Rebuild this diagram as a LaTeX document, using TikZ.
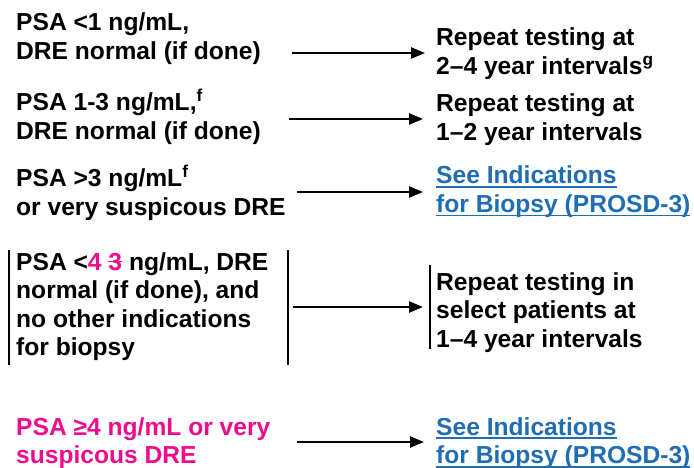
\documentclass[tikz,border=0pt]{standalone}
\usepackage{fontspec}
\setmainfont{Liberation Sans}
\usetikzlibrary{arrows.meta}
\definecolor{pinkc}{HTML}{EC0C8C}
\definecolor{linkc}{HTML}{1F6DB2}
\newsavebox\stkbox
\newcommand\strk[1]{\sbox\stkbox{#1}\rlap{\usebox\stkbox}\rule[0.32em]{\wd\stkbox}{1.6pt}}
\newcommand\lnk[1]{\sbox\stkbox{#1}\rlap{\usebox\stkbox}\rule[-4pt]{\wd\stkbox}{1.6pt}}
\begin{document}
\begin{tikzpicture}[x=1pt,y=-1pt,
  txt/.style={anchor=base west, inner sep=0pt, align=left,
    font=\fontsize{24.6}{28.5}\selectfont\bfseries},
  link/.style={txt, text=linkc},
  arr/.style={line width=2.4pt, -{Triangle[length=14pt,width=11pt]}},
  bar/.style={line width=2.2pt}]
\useasboundingbox (0,0) rectangle (694,468);
% (anchor base = baseline of the last line)
% row 1
\node[txt] (l1) at (16,59.5) {PSA <1 ng/mL,\\DRE normal (if done)};
\node[txt] (r1) at (436,74.5) {Repeat testing at\\2–4 year intervals\textsuperscript{g}};
\coordinate (s1) at (292,53);
\draw[arr, shorten >=11pt] (s1) -- (s1 -| r1.west);
% row 2
\node[txt] (l2) at (16,139.5) {PSA 1-3 ng/mL,\textsuperscript{f}\\DRE normal (if done)};
\node[txt] (r2) at (436,140.5) {Repeat testing at\\1–2 year intervals};
\coordinate (s2) at (289,119);
\draw[arr, shorten >=13pt] (s2) -- (s2 -| r2.west);
% row 3
\node[txt] (l3) at (16,215) {PSA >3 ng/mL\textsuperscript{f}\\or very suspicous DRE};
\node[link] (r3) at (436,212.5) {\lnk{See Indications}\\\lnk{for Biopsy (PROSD-3)}};
\coordinate (s3) at (297,192);
\draw[arr, shorten >=13pt] (s3) -- (s3 -| r3.west);
% row 4
\node[txt] (l4) at (16,355.5) {PSA <{\color{pinkc}4 \strk{3}} ng/mL, DRE\\normal (if done), and\\no other indications\\for biopsy};
\draw[bar] (9,250) -- (9,365);
\draw[bar] (288,250) -- (288,365);
\node[txt] (r4) at (436,347) {Repeat testing in\\select patients at\\1–4 year intervals};
\draw[bar] (430,265) -- (430,349);
\coordinate (s4) at (293,307);
\draw[arr, shorten >=13pt] (s4) -- (s4 -| r4.west);
% row 5
\node[txt, text=pinkc] (l5) at (16,463.5) {PSA ≥4 ng/mL or very\\suspicous DRE};
\node[link] (r5) at (436,463.5) {\lnk{See Indications}\\\lnk{for Biopsy (PROSD-3)}};
\coordinate (s5) at (297,442);
\draw[arr, shorten >=12pt] (s5) -- (s5 -| r5.west);
\end{tikzpicture}
\end{document}
